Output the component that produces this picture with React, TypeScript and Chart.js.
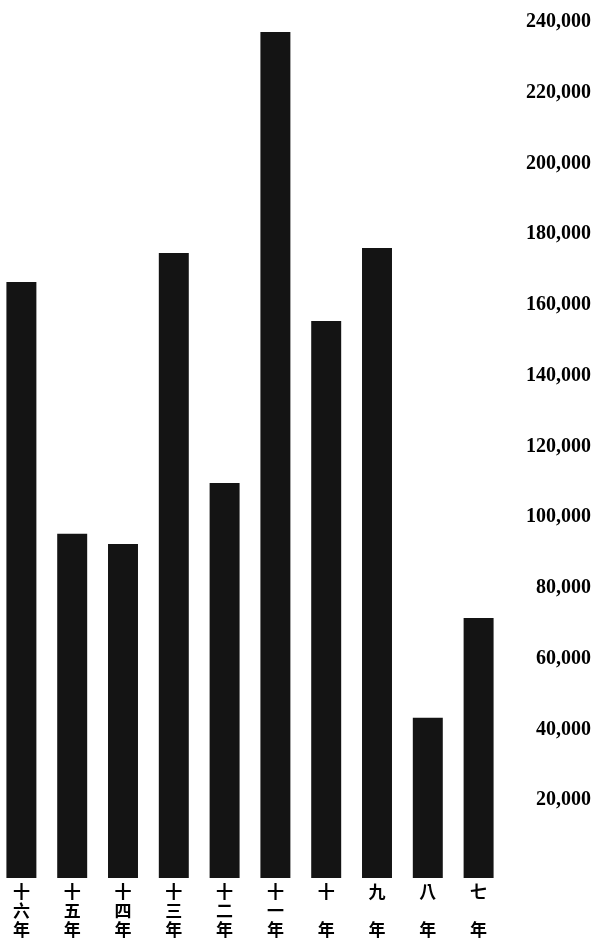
import React, { useEffect, useRef } from "react";
import { Chart, registerables } from "chart.js";

Chart.register(...registerables);

const categories: string[] = ["十六年", "十五年", "十四年", "十三年", "十二年", "十一年", "十年", "九年", "八年", "七年"];
const values: number[] = [166500, 95300, 92400, 174700, 109700, 237200, 155500, 176100, 43300, 71500];
const tickValues: number[] = [20000, 40000, 60000, 80000, 100000, 120000, 140000, 160000, 180000, 200000, 220000, 240000];

const verticalLabel = (c: string): string[] =>
  c.length === 2 ? [c[0], " ", c[1]] : c.split("");

export default function App() {
  const ref = useRef<HTMLCanvasElement | null>(null);

  useEffect(() => {
    if (!ref.current) return;
    const chart = new Chart(ref.current, {
      type: "bar",
      data: {
        labels: categories.map(verticalLabel),
        datasets: [
          {
            data: values,
            backgroundColor: "#141414",
            borderWidth: 0,
            barPercentage: 0.59,
            categoryPercentage: 1,
            base: -2000,
          },
        ],
      },
      options: {
        animation: false,
        responsive: false,
        devicePixelRatio: 1,
        layout: { padding: { top: 22, right: 5, bottom: 0, left: 0 } },
        plugins: { legend: { display: false }, tooltip: { enabled: false } },
        scales: {
          x: {
            grid: { display: false, drawTicks: false },
            border: { display: false },
            ticks: {
              color: "#000",
              padding: 4,
              maxRotation: 0,
              autoSkip: false,
              font: { family: "'Noto Sans CJK TC'", size: 17, weight: "bold", lineHeight: 1.12 },
            },
            afterFit: (s: any) => {
              s.height = 62;
            },
          },
          y: {
            position: "right",
            min: -2000,
            max: 240000,
            grid: { display: false, drawTicks: false },
            border: { display: false },
            afterBuildTicks: (s: any) => {
              s.ticks = tickValues.map((v) => ({ value: v }));
            },
            afterFit: (s: any) => {
              s.width = 87;
            },
            ticks: {
              color: "#000",
              crossAlign: "far",
              padding: 0,
              font: { family: "'Liberation Serif'", size: 20, weight: "bold" },
              callback: (v: any) => Number(v).toLocaleString("en-US"),
            },
          },
        },
      },
    } as any);
    return () => chart.destroy();
  }, []);

  return (
    <div style={{ position: "absolute", left: -4, top: 0, width: 600, height: 940, background: "#fff" }}>
      <canvas ref={ref} width={600} height={940} />
    </div>
  );
}
